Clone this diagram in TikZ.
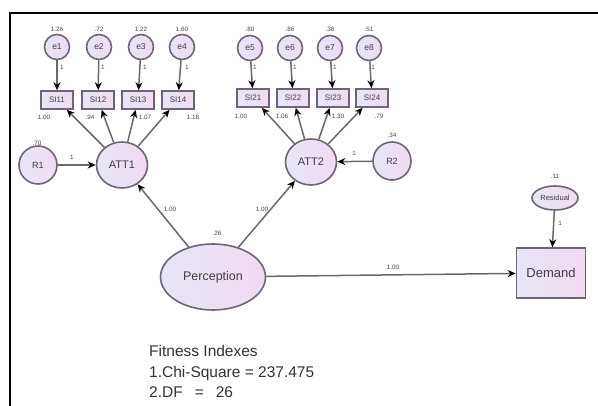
\documentclass[tikz,border=0pt]{standalone}
\usepackage{fontspec}
\setmainfont{Liberation Sans}
\usetikzlibrary{arrows.meta,shapes.geometric}
\definecolor{linec}{RGB}{110,102,118}
\definecolor{pathc}{RGB}{105,105,105}
\definecolor{fillL}{RGB}{230,230,246}
\definecolor{fillR}{RGB}{242,218,242}
\definecolor{valc}{RGB}{70,70,70}
\begin{document}
\begin{tikzpicture}[x=1pt,y=-1pt,
  obj/.style={draw=linec, line width=1.6pt, left color=fillL, right color=fillR, text=black!75},
  ecirc/.style={obj, circle, minimum size=25pt, inner sep=0pt, font=\fontsize{8.5}{9}\selectfont},
  ibox/.style={obj, rectangle, minimum width=32pt, minimum height=18pt, inner sep=0pt, font=\fontsize{8}{9}\selectfont},
  lat/.style={obj, ellipse, minimum width=51pt, minimum height=46pt, inner sep=0pt, font=\fontsize{11}{12}\selectfont},
  rcirc/.style={obj, circle, minimum size=38pt, inner sep=0pt, font=\fontsize{9}{10}\selectfont},
  arr/.style={draw=pathc, line width=1.5pt, -{Stealth[length=8pt,width=7pt,black]}},
  val/.style={font=\fontsize{6.3}{7}\selectfont, text=valc, inner sep=0pt},
  fit/.style={font=\fontsize{15.5}{18}\selectfont, text=black!80, inner sep=0pt, anchor=base west}
]
\useasboundingbox (0,0) rectangle (598,406);
\fill[white] (0,0) rectangle (598,406);
\draw[line width=2.2pt] (10,406) -- (10,13) -- (598,13);

% ATT1 group
\node[ecirc] (e1) at (57,47) {e1};
\node[ecirc] (e2) at (99,47) {e2};
\node[ecirc] (e3) at (141,47) {e3};
\node[ecirc] (e4) at (182,47) {e4};
\node[ibox] (s11) at (57,100) {SI11};
\node[ibox] (s12) at (98,100) {SI12};
\node[ibox] (s13) at (138,100) {SI13};
\node[ibox] (s14) at (178,100) {SI14};
\node[lat] (att1) at (122,165) {ATT1};
\node[rcirc] (r1) at (38,165) {R1};

% ATT2 group
\node[ecirc] (e5) at (250,48) {e5};
\node[ecirc] (e6) at (290,48) {e6};
\node[ecirc] (e7) at (330,48) {e7};
\node[ecirc] (e8) at (369,48) {e8};
\node[ibox] (s21) at (253,98) {SI21};
\node[ibox] (s22) at (293,98) {SI22};
\node[ibox] (s23) at (333,98) {SI23};
\node[ibox] (s24) at (372,98) {SI24};
\node[lat] (att2) at (311,162) {ATT2};
\node[rcirc] (r2) at (392,161) {R2};

% Perception, Demand
\node[obj, ellipse, minimum width=105pt, minimum height=66pt, inner sep=0pt, font=\fontsize{12.5}{13}\selectfont] (perc) at (213,277) {Perception};
\node[obj, rectangle, minimum width=69pt, minimum height=50pt, inner sep=0pt, font=\fontsize{13}{14}\selectfont] (dem) at (551,273) {Demand};
\node[obj, ellipse, minimum width=46pt, minimum height=24pt, inner sep=0pt, font=\fontsize{7.5}{8}\selectfont] (resid) at (555,198) {Residual};

% arrows
\foreach \e/\s in {e1/s11,e2/s12,e3/s13,e4/s14,e5/s21,e6/s22,e7/s23,e8/s24}
  \draw[arr] (\e) -- (\s);
\foreach \s in {s11,s12,s13,s14} \draw[arr] (att1) -- (\s);
\foreach \s in {s21,s22,s23,s24} \draw[arr] (att2) -- (\s);
\draw[arr] (r1) -- (att1);
\draw[arr] (r2) -- (att2);
\draw[arr] (perc) -- (att1);
\draw[arr] (perc) -- (att2);
\draw[arr] (perc) -- (dem);
\draw[arr] (resid) -- (dem);

% variance labels
\node[val] (v1) at (57,29) {1.26};
\node[val] (v2) at (99,29) {.72};
\node[val] (v3) at (141,29) {1.22};
\node[val] (v4) at (182,29) {1.60};
\node[val] (v5) at (250,29) {.80};
\node[val] (v6) at (290,29) {.86};
\node[val] (v7) at (330,29) {.38};
\node[val] (v8) at (369,29) {.51};
\node[val] (vr1) at (37,143) {.70};
\node[val] (vr2) at (392,135) {.34};
\node[val] (vp) at (217,233) {.26};
\node[val] (vres) at (555,176) {.11};

% fixed paths "1"
\foreach \x/\n in {62/a,103/b,145/c,187/d,255/e,295/f,335/g,373/h}
  \node[val] (one\n) at (\x,67) {1};
\node[val] (oner1) at (72,157) {1};
\node[val] (oner2) at (354,153) {1};
\node[val] (oneres) at (560,223) {1};

% loadings
\node[val] (l11) at (44,117) {1.00};
\node[val] (l12) at (90,117) {.94};
\node[val] (l13) at (145,117) {1.07};
\node[val] (l14) at (193,117) {1.18};
\node[val] (l21) at (241,116) {1.00};
\node[val] (l22) at (282,116) {1.06};
\node[val] (l23) at (338,116) {1.30};
\node[val] (l24) at (379,116) {.79};
\node[val] (lp1) at (170,209) {1.00};
\node[val] (lp2) at (262,209) {1.00};
\node[val] (lpd) at (393,267) {1.00};

% fitness text
\node[fit] (f1) at (149,357) {Fitness Indexes};
\node[fit] (f2) at (149,378) {1.Chi-Square = 237.475};
\node[fit] (f3) at (149,398) {2.DF\hspace{12pt}=\hspace{12pt}26};
\end{tikzpicture}
\end{document}
